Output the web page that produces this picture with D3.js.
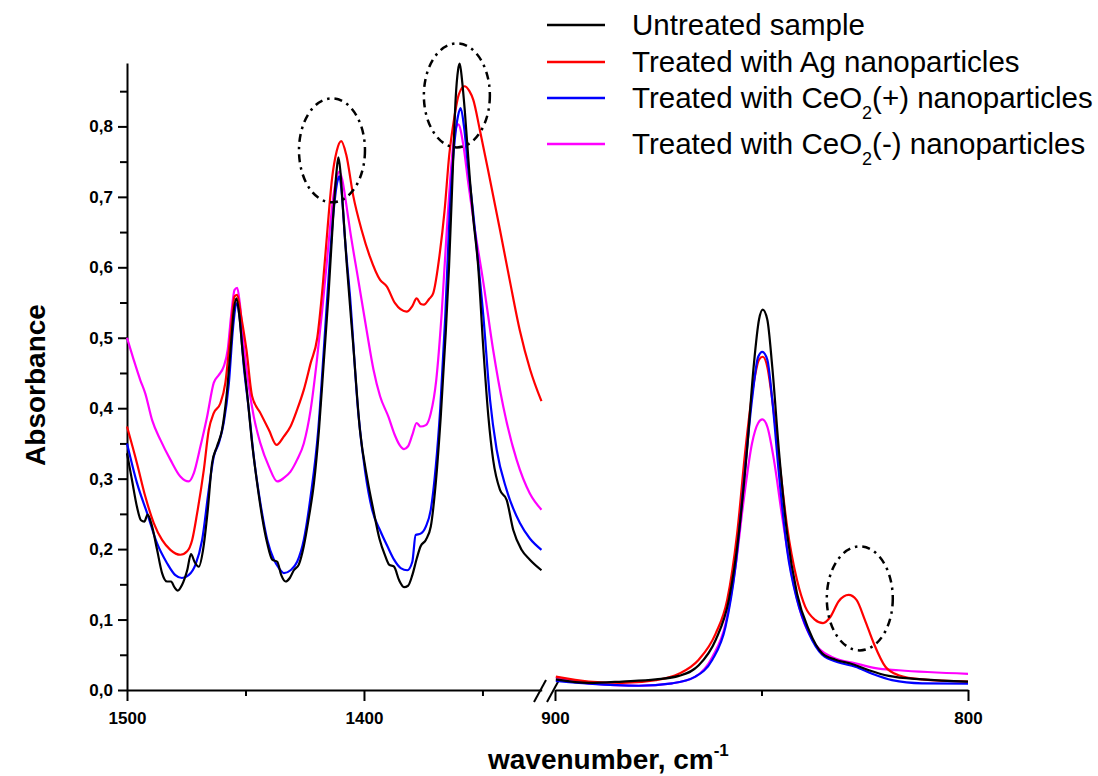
<!DOCTYPE html>
<html>
<head>
<meta charset="utf-8">
<script src="https://cdn.jsdelivr.net/npm/d3@7"></script>
<style>
  body { margin: 0; background: #fff; }
  svg { display: block; font-family: "Liberation Sans", Arial, sans-serif; }
</style>
</head>
<body>
<div id="chart"></div>
<script>
// Series names and colours (legend order)
const seriesNames = [
  "Untreated sample",
  "Treated with Ag nanoparticles",
  "Treated with CeO2(+) nanoparticles",
  "Treated with CeO2(-) nanoparticles"
];
const seriesColors = ["#000000", "#ff0000", "#0000ff", "#ff00ff"];

// Tick values
const yTickValues = d3.range(0, 18).map(i => i * 0.05);
const xLeftTicks = [1500, 1450, 1400, 1350];
const xRightTicks = [900, 850, 800];
const xMajorTicks = [1500, 1400, 900, 800];

// [wavenumber, absorbance], 1500-1325 cm-1 part
const untreatedLeft = [
  [1500, 0.336], [1497.9, 0.298], [1495.8, 0.260], [1494.1, 0.241], [1492.7, 0.239], [1491.3, 0.249],
  [1489.4, 0.232], [1487.3, 0.199], [1485.2, 0.166], [1483.1, 0.154], [1481.4, 0.154], [1480, 0.146],
  [1478.6, 0.141], [1476.8, 0.149], [1474.6, 0.170], [1473, 0.193], [1471.5, 0.182], [1469.7, 0.175],
  [1467.9, 0.199], [1465.9, 0.256], [1464.1, 0.322], [1462, 0.346], [1459.9, 0.369], [1458, 0.417],
  [1456.3, 0.483], [1454.9, 0.540], [1453.8, 0.556], [1452.7, 0.535], [1451.3, 0.483], [1449.3, 0.421],
  [1447.2, 0.350], [1445.1, 0.294], [1443, 0.246], [1440.8, 0.208], [1438.7, 0.185], [1436.6, 0.182],
  [1434.9, 0.163], [1433.1, 0.154], [1431.3, 0.159], [1429.6, 0.170], [1427.5, 0.178], [1425.4, 0.204],
  [1423.2, 0.246], [1421.1, 0.294], [1419, 0.369], [1416.9, 0.469], [1415, 0.559], [1412.9, 0.677],
  [1411.6, 0.735], [1410.8, 0.756], [1410, 0.738], [1409, 0.69], [1407.3, 0.606], [1404.5, 0.488],
  [1401.7, 0.369], [1398.6, 0.30], [1396, 0.255], [1393.5, 0.215], [1391, 0.19], [1389.4, 0.178],
  [1387.3, 0.175], [1385.2, 0.156], [1383.1, 0.146], [1381.4, 0.148], [1379.6, 0.163], [1377.7, 0.187],
  [1376.1, 0.204], [1373.9, 0.213], [1371.8, 0.232], [1369.7, 0.294], [1367.6, 0.388], [1365.5, 0.507],
  [1364.1, 0.601], [1362.5, 0.74], [1361.3, 0.84], [1360.3, 0.88], [1359.6, 0.889], [1358.6, 0.865],
  [1357.4, 0.82], [1355.3, 0.724], [1353.9, 0.67], [1351.8, 0.601], [1349.6, 0.483], [1347.5, 0.388],
  [1345.5, 0.327], [1342.6, 0.284], [1339.8, 0.270], [1337, 0.227], [1333.5, 0.199], [1330, 0.185],
  [1325.1, 0.170]
];
const agLeft = [
  [1500, 0.374], [1495.8, 0.322], [1492.3, 0.275], [1488.7, 0.237], [1485.2, 0.213], [1481.7, 0.199],
  [1477.5, 0.192], [1474.6, 0.197], [1472.5, 0.213], [1470.4, 0.251], [1467.6, 0.312], [1465.5, 0.369],
  [1463.4, 0.393], [1460.6, 0.407], [1458.5, 0.436], [1456.3, 0.507], [1454.6, 0.559], [1453.5, 0.561],
  [1451.8, 0.530], [1449.6, 0.483], [1447.2, 0.417], [1443.7, 0.393], [1440.1, 0.369], [1436.9, 0.348],
  [1433.8, 0.360], [1431, 0.374], [1428.2, 0.398], [1425.4, 0.426], [1422.5, 0.464], [1419.7, 0.50],
  [1417.5, 0.57], [1415.5, 0.65], [1413.5, 0.725], [1411.5, 0.765], [1409.6, 0.779], [1407.5, 0.76],
  [1404.5, 0.701], [1401, 0.653], [1397.5, 0.615], [1393.2, 0.582], [1390.4, 0.573], [1386.9, 0.549],
  [1382, 0.537], [1379.6, 0.545], [1377.8, 0.556], [1376, 0.548], [1374.7, 0.547], [1372.5, 0.555],
  [1370.8, 0.563], [1368, 0.62], [1366, 0.68], [1364, 0.76], [1362, 0.81], [1360, 0.845],
  [1357.6, 0.857], [1355.5, 0.85], [1353.9, 0.838], [1351.1, 0.795], [1346.8, 0.724], [1342.6, 0.653],
  [1338.4, 0.58], [1334.2, 0.51], [1329.9, 0.455], [1325.1, 0.41]
];
const ceoPlusLeft = [
  [1500, 0.350], [1495.8, 0.294], [1491.5, 0.251], [1487.3, 0.208], [1483.1, 0.180], [1479.6, 0.163],
  [1476.8, 0.159], [1474, 0.163], [1471.1, 0.178], [1468.3, 0.213], [1465.5, 0.284], [1463.4, 0.331],
  [1461.3, 0.350], [1459.2, 0.379], [1457, 0.436], [1455.2, 0.516], [1453.8, 0.549], [1452.4, 0.526],
  [1450.7, 0.459], [1448.6, 0.398], [1446.5, 0.331], [1443.7, 0.265], [1440.8, 0.213], [1438, 0.185],
  [1435.9, 0.173], [1433.8, 0.166], [1431, 0.170], [1428.2, 0.182], [1425.4, 0.213], [1422.5, 0.275],
  [1419.3, 0.369], [1417, 0.48], [1415, 0.582], [1412.8, 0.68], [1411.2, 0.722], [1410.4, 0.729],
  [1409.5, 0.71], [1408, 0.64], [1405.9, 0.559], [1402.4, 0.393], [1399.5, 0.31], [1396.5, 0.255],
  [1393, 0.225], [1390.1, 0.204], [1387.3, 0.185], [1384.5, 0.173], [1381.7, 0.170], [1379.6, 0.182],
  [1378.2, 0.220], [1376.1, 0.222], [1373.9, 0.232], [1371.8, 0.256], [1369.7, 0.317], [1367.8, 0.40],
  [1365.7, 0.53], [1363.8, 0.68], [1362, 0.77], [1360.3, 0.815], [1359.2, 0.826], [1357.8, 0.80],
  [1356, 0.74], [1354, 0.68], [1352.5, 0.63], [1349.6, 0.530], [1346.8, 0.412], [1344, 0.341],
  [1339.8, 0.284], [1334.2, 0.237], [1330, 0.215], [1325.1, 0.199]
];
const ceoMinusLeft = [
  [1500, 0.500], [1497.2, 0.469], [1494.4, 0.440], [1492.3, 0.421], [1489.4, 0.383], [1485.9, 0.355],
  [1481.7, 0.327], [1477.5, 0.303], [1474, 0.296], [1471.8, 0.308], [1469, 0.346], [1466.2, 0.388],
  [1463.4, 0.436], [1461.3, 0.447], [1459.2, 0.459], [1457.5, 0.483], [1456.1, 0.530], [1454.6, 0.568],
  [1453.5, 0.571], [1452.4, 0.549], [1450.7, 0.488], [1448.6, 0.431], [1446.5, 0.388], [1443.7, 0.350],
  [1440.1, 0.317], [1436.6, 0.296], [1433.8, 0.301], [1431, 0.310], [1428.2, 0.327], [1425.4, 0.350],
  [1422.5, 0.398], [1420, 0.464], [1417.6, 0.54], [1415.7, 0.606], [1412.9, 0.701], [1411.3, 0.73],
  [1410.4, 0.736], [1409.2, 0.725], [1407.5, 0.69], [1405.9, 0.653], [1402.4, 0.582], [1398.9, 0.511],
  [1396, 0.455], [1393.2, 0.417], [1389.7, 0.388], [1387, 0.362], [1385, 0.348], [1383.1, 0.342],
  [1381.4, 0.346], [1379.6, 0.362], [1377.8, 0.379], [1376.1, 0.374], [1373.9, 0.376], [1371.8, 0.393],
  [1369.5, 0.44], [1367.2, 0.535], [1365.1, 0.65], [1362.3, 0.775], [1360.2, 0.803], [1358, 0.772],
  [1356, 0.72], [1353.5, 0.66], [1349.6, 0.578], [1345.5, 0.483], [1341.2, 0.402], [1335.6, 0.327],
  [1330, 0.279], [1325.1, 0.256]
];

// 900-800 cm-1 part
const untreatedRight = [
  [899.8, 0.015], [891.8, 0.010], [883.7, 0.012], [875.6, 0.015], [870, 0.020], [865.2, 0.035],
  [861.1, 0.071], [857.9, 0.128], [855.5, 0.222], [853.5, 0.341], [851.9, 0.459], [850.6, 0.526],
  [849.7, 0.540], [848.6, 0.526], [847.4, 0.459], [845.8, 0.341], [843.8, 0.222], [841.4, 0.137],
  [838.5, 0.085], [835.3, 0.052], [832.1, 0.043], [828.1, 0.037], [824, 0.028], [819.2, 0.020],
  [811.1, 0.015], [800, 0.012]
];
const agRight = [
  [899.8, 0.019], [891.8, 0.012], [883.7, 0.010], [875.6, 0.014], [870, 0.023], [865.2, 0.043],
  [861.1, 0.080], [858.3, 0.128], [855.9, 0.222], [853.9, 0.341], [851.9, 0.435], [850.6, 0.469],
  [849.7, 0.473], [848.6, 0.459], [847.4, 0.412], [845.8, 0.331], [843.8, 0.232], [841.4, 0.156],
  [839.4, 0.118], [837.1, 0.100], [835.1, 0.095], [833.3, 0.104], [831.3, 0.126], [828.9, 0.135],
  [827, 0.128], [825, 0.100], [822.8, 0.066], [820, 0.033], [816.8, 0.021], [811.1, 0.015], [800, 0.012]
];
const ceoPlusRight = [
  [899.8, 0.013], [891.8, 0.009], [879.7, 0.006], [871.6, 0.0095], [866, 0.019], [861.9, 0.043],
  [858.7, 0.090], [856.3, 0.175], [854.3, 0.294], [852.3, 0.412], [850.8, 0.473], [849.8, 0.480],
  [848.6, 0.469], [847.4, 0.412], [845.8, 0.308], [843.8, 0.199], [841.4, 0.128], [838.5, 0.080],
  [835.3, 0.050], [831.3, 0.039], [827.3, 0.033], [823.2, 0.023], [818.4, 0.014], [811.1, 0.0095],
  [800, 0.009]
];
const ceoMinusRight = [
  [899.8, 0.018], [891.8, 0.0095], [879.7, 0.006], [871.6, 0.0095], [866, 0.019], [861.9, 0.047],
  [858.7, 0.094], [856.3, 0.175], [854.3, 0.270], [852.3, 0.350], [850.8, 0.379], [849.8, 0.384],
  [848.6, 0.374], [847, 0.327], [845, 0.246], [842.6, 0.161], [840.2, 0.104], [837.1, 0.066],
  [833, 0.047], [827.3, 0.038], [822.4, 0.031], [816.8, 0.028], [800, 0.023]
];

// Highlighted regions: [wavenumber, absorbance] centres of the dash-dot ellipses
const highlightLeft = [[1413.5, 0.766], [1360.8, 0.844]];
const highlightRight = [[826.2, 0.130]];

function drawChart() {
  const width = 1098, height = 776;

  const svg = d3.select("#chart").append("svg")
      .attr("width", width)
      .attr("height", height);

  // Broken x axis: two linear scales side by side
  const xLeft = d3.scaleLinear().domain([1500, 1325]).range([127, 541.7]);
  const xRight = d3.scaleLinear().domain([900, 800]).range([555, 968]);
  const y = d3.scaleLinear().domain([0, 0.89]).range([690, 63]);

  const fmt = d => d.toFixed(1).replace(".", ",");
  const isMajorY = d => Math.round(d * 100) % 10 === 0;

  // Y axis
  const yAxis = svg.append("g")
      .attr("transform", "translate(127,0)")
      .call(d3.axisLeft(y)
          .tickValues(yTickValues)
          .tickSize(9)
          .tickSizeOuter(0)
          .tickPadding(5)
          .tickFormat(d => isMajorY(d) ? fmt(d) : ""));
  yAxis.select(".domain").attr("stroke-width", 2);
  yAxis.selectAll(".tick line").attr("stroke-width", 2).attr("x2", d => isMajorY(d) ? -9 : -7);
  yAxis.selectAll(".tick text")
      .style("font-size", "17px").style("font-weight", "bold").attr("fill", "#000");

  // X axes (left and right parts)
  function xAxisPart(scale, ticks) {
    const g = svg.append("g")
        .attr("transform", "translate(0,690)")
        .call(d3.axisBottom(scale)
            .tickValues(ticks)
            .tickSize(11)
            .tickSizeOuter(0)
            .tickFormat(d => xMajorTicks.includes(d) ? d : ""));
    g.select(".domain").attr("stroke-width", 2);
    g.selectAll(".tick line").attr("stroke-width", 2).attr("y2", d => xMajorTicks.includes(d) ? 11 : 6);
    g.selectAll(".tick text")
        .attr("y", 34).attr("dy", null)
        .style("font-size", "17px").style("font-weight", "bold").attr("fill", "#000");
    return g;
  }
  xAxisPart(xLeft, xLeftTicks);
  xAxisPart(xRight, xRightTicks);

  // Axis break marks
  svg.append("g")
      .attr("stroke", "#000").attr("stroke-width", 2)
      .selectAll("line")
      .data([534, 547])
      .enter().append("line")
      .attr("x1", d => d).attr("y1", 702)
      .attr("x2", d => d + 12).attr("y2", 680);

  // Curves
  const leftSets = [untreatedLeft, agLeft, ceoPlusLeft, ceoMinusLeft];
  const rightSets = [untreatedRight, agRight, ceoPlusRight, ceoMinusRight];
  const drawOrder = [3, 1, 2, 0];

  const lineLeft = d3.line().x(d => xLeft(d[0])).y(d => y(d[1])).curve(d3.curveMonotoneX);
  const lineRight = d3.line().x(d => xRight(d[0])).y(d => y(d[1])).curve(d3.curveMonotoneX);

  const curves = svg.append("g").attr("fill", "none").attr("stroke-width", 2.2);
  drawOrder.forEach(i => {
    curves.append("path").datum(leftSets[i]).attr("d", lineLeft).attr("stroke", seriesColors[i]);
    curves.append("path").datum(rightSets[i]).attr("d", lineRight).attr("stroke", seriesColors[i]);
  });

  // Dash-dot highlight ellipses
  const ell = svg.append("g")
      .attr("fill", "none").attr("stroke", "#000")
      .attr("stroke-width", 2.5).attr("stroke-dasharray", "8,5,2.5,5");
  ell.selectAll(".hl-left")
      .data(highlightLeft)
      .enter().append("ellipse")
      .attr("cx", d => xLeft(d[0])).attr("cy", d => y(d[1]))
      .attr("rx", 33).attr("ry", 52);
  ell.selectAll(".hl-right")
      .data(highlightRight)
      .enter().append("ellipse")
      .attr("cx", d => xRight(d[0])).attr("cy", d => y(d[1]))
      .attr("rx", 33).attr("ry", 52);

  // Axis titles
  svg.append("text")
      .attr("transform", "translate(45,385) rotate(-90)")
      .attr("text-anchor", "middle")
      .style("font-size", "28px").style("font-weight", "bold")
      .text("Absorbance");

  const xt = svg.append("text")
      .attr("x", 488).attr("y", 769)
      .style("font-size", "28px").style("font-weight", "bold");
  xt.append("tspan").text("wavenumber, cm");
  xt.append("tspan").attr("dy", -13).style("font-size", "17px").text("-1");

  // Legend
  const legend = svg.append("g");
  const rowsY = [25, 62, 98, 144];
  seriesNames.forEach((name, i) => {
    legend.append("line")
        .attr("x1", 547).attr("x2", 605)
        .attr("y1", rowsY[i]).attr("y2", rowsY[i])
        .attr("stroke", seriesColors[i]).attr("stroke-width", 2.5);
    const t = legend.append("text")
        .attr("x", 632).attr("y", rowsY[i] + 10)
        .style("font-size", "29.5px");
    const m = name.match(/^(.*CeO)2(.*)$/);
    if (m) {
      t.append("tspan").text(m[1]);
      t.append("tspan").attr("dy", 11).style("font-size", "18px").text("2");
      t.append("tspan").attr("dy", -11).text(m[2]);
    } else {
      t.text(name);
    }
  });
}

drawChart();
</script>
</body>
</html>
